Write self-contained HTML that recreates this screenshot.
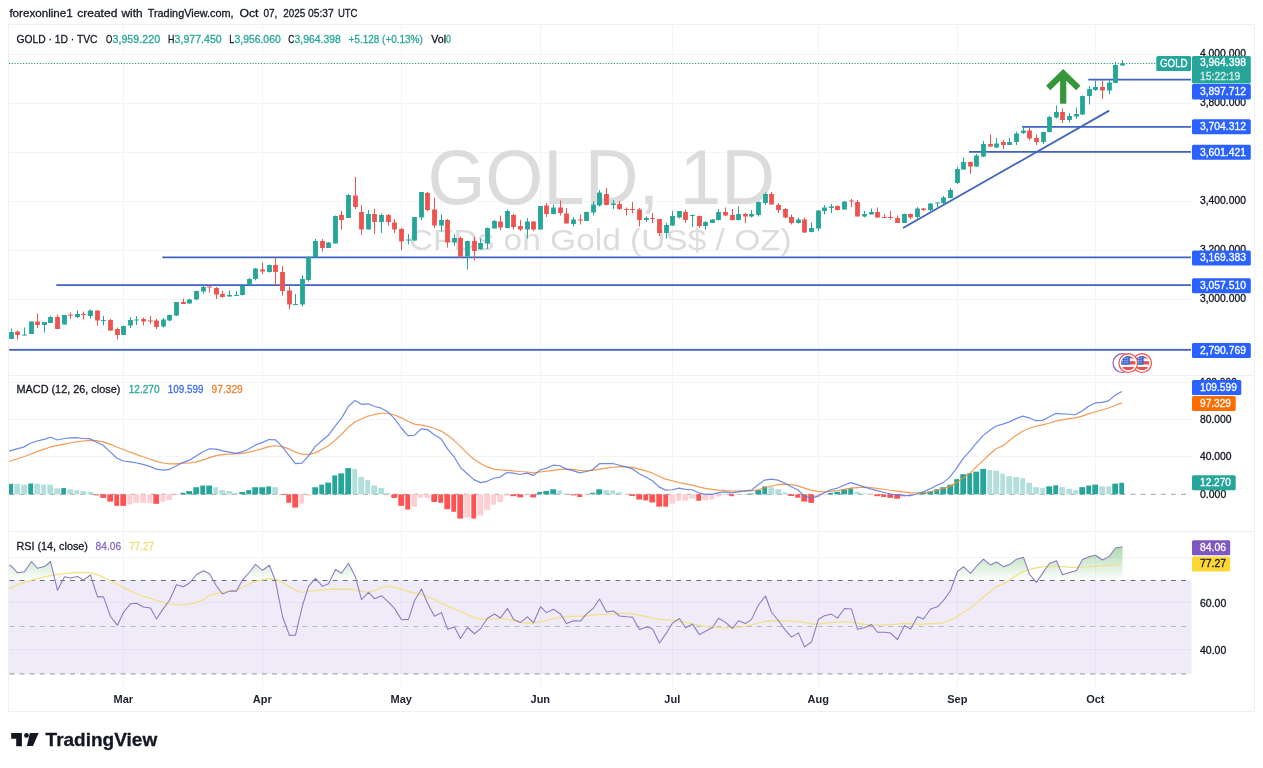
<!DOCTYPE html>
<html><head><meta charset="utf-8"><title>GOLD 1D chart</title><style>html,body{margin:0;padding:0;background:#fff;overflow:hidden}svg{display:block}</style></head><body>
<svg width="1263" height="768" viewBox="0 0 1263 768" font-family="'Liberation Sans', Arial, sans-serif"><rect x="0" y="0" width="1263" height="768" fill="#ffffff"/>
<text y="17" font-size="11.6" fill="#131722" stroke="#131722" stroke-width="0.3"><tspan x="9.4" textLength="63.3" lengthAdjust="spacingAndGlyphs">forexonline1</tspan> <tspan x="77.3" textLength="40" lengthAdjust="spacingAndGlyphs">created</tspan> <tspan x="121.6" textLength="21" lengthAdjust="spacingAndGlyphs">with</tspan> <tspan x="147.7" textLength="85.9" lengthAdjust="spacingAndGlyphs">TradingView.com,</tspan> <tspan x="239.4" textLength="19" lengthAdjust="spacingAndGlyphs">Oct</tspan> <tspan x="263.5" textLength="13.9" lengthAdjust="spacingAndGlyphs">07,</tspan> <tspan x="283.3" textLength="22" lengthAdjust="spacingAndGlyphs">2025</tspan> <tspan x="308" textLength="25.7" lengthAdjust="spacingAndGlyphs">05:37</tspan> <tspan x="337.9" textLength="19.5" lengthAdjust="spacingAndGlyphs">UTC</tspan></text>
<g stroke="#f3f4f7" stroke-width="1" shape-rendering="crispEdges">
<line x1="123.5" y1="24.5" x2="123.5" y2="686.5"/>
<line x1="262.5" y1="24.5" x2="262.5" y2="686.5"/>
<line x1="401.5" y1="24.5" x2="401.5" y2="686.5"/>
<line x1="540.5" y1="24.5" x2="540.5" y2="686.5"/>
<line x1="672.5" y1="24.5" x2="672.5" y2="686.5"/>
<line x1="818.5" y1="24.5" x2="818.5" y2="686.5"/>
<line x1="957.5" y1="24.5" x2="957.5" y2="686.5"/>
<line x1="1095.5" y1="24.5" x2="1095.5" y2="686.5"/>
<line x1="8.5" y1="54.5" x2="1191.5" y2="54.5"/>
<line x1="8.5" y1="103.5" x2="1191.5" y2="103.5"/>
<line x1="8.5" y1="152.5" x2="1191.5" y2="152.5"/>
<line x1="8.5" y1="201.5" x2="1191.5" y2="201.5"/>
<line x1="8.5" y1="250.5" x2="1191.5" y2="250.5"/>
<line x1="8.5" y1="299.5" x2="1191.5" y2="299.5"/>
<line x1="8.5" y1="348.5" x2="1191.5" y2="348.5"/>
<line x1="8.5" y1="382.5" x2="1191.5" y2="382.5"/>
<line x1="8.5" y1="419.5" x2="1191.5" y2="419.5"/>
<line x1="8.5" y1="456.5" x2="1191.5" y2="456.5"/>
<line x1="8.5" y1="557.5" x2="1191.5" y2="557.5"/>
<line x1="8.5" y1="602.5" x2="1191.5" y2="602.5"/>
<line x1="8.5" y1="649.5" x2="1191.5" y2="649.5"/>
</g>
<text x="601.2" y="204.3" font-size="77" fill="#dcdcdc" textLength="347.6" lengthAdjust="spacingAndGlyphs" text-anchor="middle" >GOLD, 1D</text>
<text x="600.3" y="250.1" font-size="30" fill="#dcdcdc" textLength="382.9" lengthAdjust="spacingAndGlyphs" text-anchor="middle" >CFDs on Gold (US$ / OZ)</text>
<rect x="9.0" y="580.5" width="1182.5" height="93.4" fill="#efebf9"/>
<g stroke="#e6e2f1" stroke-width="1" shape-rendering="crispEdges">
<line x1="8.5" y1="602.5" x2="1191.5" y2="602.5"/>
<line x1="8.5" y1="649.5" x2="1191.5" y2="649.5"/>
<line x1="123.5" y1="581" x2="123.5" y2="674"/>
<line x1="262.5" y1="581" x2="262.5" y2="674"/>
<line x1="401.5" y1="581" x2="401.5" y2="674"/>
<line x1="540.5" y1="581" x2="540.5" y2="674"/>
<line x1="672.5" y1="581" x2="672.5" y2="674"/>
<line x1="818.5" y1="581" x2="818.5" y2="674"/>
<line x1="957.5" y1="581" x2="957.5" y2="674"/>
<line x1="1095.5" y1="581" x2="1095.5" y2="674"/>
</g>
<line x1="9.5" y1="580.5" x2="1188" y2="580.5" stroke="#6b6e7a" stroke-width="1" stroke-dasharray="4.9 5.2"/>
<line x1="9.5" y1="626.5" x2="1188" y2="626.5" stroke="#b8bac2" stroke-width="1" stroke-dasharray="4.9 5.2"/>
<line x1="9.5" y1="673.9" x2="1188" y2="673.9" stroke="#a6a8b2" stroke-width="1.1" stroke-dasharray="4.9 5.2"/>
<line x1="9.5" y1="494.3" x2="1188" y2="494.3" stroke="#9da0a8" stroke-width="1" stroke-dasharray="4.9 5.2"/>
<line x1="9" y1="63.5" x2="1156" y2="63.5" stroke="#1f877b" stroke-width="1" stroke-dasharray="1.1 1.7"/>
<line x1="162.3" y1="257.3" x2="1191" y2="257.3" stroke="#3f63bf" stroke-width="1.8"/>
<line x1="56.3" y1="285.2" x2="1191" y2="285.2" stroke="#3f63bf" stroke-width="1.8"/>
<line x1="9.2" y1="349.9" x2="1191" y2="349.9" stroke="#3f63bf" stroke-width="1.8"/>
<line x1="969" y1="151.8" x2="1191" y2="151.8" stroke="#3f63bf" stroke-width="1.8"/>
<line x1="1022.1" y1="126.8" x2="1191" y2="126.8" stroke="#3f63bf" stroke-width="1.8"/>
<line x1="1088.3" y1="79.6" x2="1191" y2="79.6" stroke="#3f63bf" stroke-width="1.8"/>
<line x1="903" y1="228" x2="1109.2" y2="110.6" stroke="#3f63bf" stroke-width="1.8"/>
<g>
<path d="M11.5 328.5V339" stroke="#26a69a" stroke-width="1"/><rect x="9.1" y="332" width="4.8" height="7" fill="#26a69a"/>
<path d="M17.5 330.5V339.5" stroke="#ef5350" stroke-width="1"/><rect x="15.1" y="331.5" width="4.8" height="3.5" fill="#ef5350"/>
<path d="M24.5 327.5V335.5" stroke="#26a69a" stroke-width="1"/><rect x="22.1" y="334.5" width="4.8" height="1" fill="#26a69a"/>
<path d="M31.5 321.5V334" stroke="#26a69a" stroke-width="1"/><rect x="29.1" y="321.5" width="4.8" height="12.5" fill="#26a69a"/>
<path d="M37.5 313.5V328" stroke="#ef5350" stroke-width="1"/><rect x="35.1" y="321.5" width="4.8" height="3.5" fill="#ef5350"/>
<path d="M44.5 322V332.5" stroke="#26a69a" stroke-width="1"/><rect x="42.1" y="322" width="4.8" height="3" fill="#26a69a"/>
<path d="M50.5 316V323" stroke="#26a69a" stroke-width="1"/><rect x="48.1" y="317" width="4.8" height="6" fill="#26a69a"/>
<path d="M57.5 314.5V329" stroke="#ef5350" stroke-width="1"/><rect x="55.1" y="317" width="4.8" height="12" fill="#ef5350"/>
<path d="M64.5 315V324.5" stroke="#26a69a" stroke-width="1"/><rect x="62.1" y="315" width="4.8" height="9.5" fill="#26a69a"/>
<path d="M70.5 312.5V319" stroke="#ef5350" stroke-width="1"/><rect x="68.1" y="314.5" width="4.8" height="1" fill="#ef5350"/>
<path d="M77.5 310.5V318" stroke="#26a69a" stroke-width="1"/><rect x="75.1" y="314" width="4.8" height="3" fill="#26a69a"/>
<path d="M83.5 311.5V319.5" stroke="#ef5350" stroke-width="1"/><rect x="81.1" y="314" width="4.8" height="1" fill="#ef5350"/>
<path d="M90.5 309.5V318.5" stroke="#26a69a" stroke-width="1"/><rect x="88.1" y="310.5" width="4.8" height="5.5" fill="#26a69a"/>
<path d="M97.5 310.5V325.5" stroke="#ef5350" stroke-width="1"/><rect x="95.1" y="310.5" width="4.8" height="10" fill="#ef5350"/>
<path d="M103.5 316V325.5" stroke="#26a69a" stroke-width="1"/><rect x="101.1" y="320" width="4.8" height="1" fill="#26a69a"/>
<path d="M110.5 319V331" stroke="#ef5350" stroke-width="1"/><rect x="108.1" y="320" width="4.8" height="10.5" fill="#ef5350"/>
<path d="M117.5 327.5V339.5" stroke="#ef5350" stroke-width="1"/><rect x="115.1" y="329" width="4.8" height="6" fill="#ef5350"/>
<path d="M123.5 325.5V335" stroke="#26a69a" stroke-width="1"/><rect x="121.1" y="326" width="4.8" height="9" fill="#26a69a"/>
<path d="M130.5 317V328" stroke="#26a69a" stroke-width="1"/><rect x="128.1" y="320" width="4.8" height="5.5" fill="#26a69a"/>
<path d="M136.5 316V325" stroke="#26a69a" stroke-width="1"/><rect x="134.1" y="319.5" width="4.8" height="1" fill="#26a69a"/>
<path d="M143.5 317.5V325.5" stroke="#ef5350" stroke-width="1"/><rect x="141.1" y="319" width="4.8" height="2.5" fill="#ef5350"/>
<path d="M150.5 316V324" stroke="#ef5350" stroke-width="1"/><rect x="148.1" y="320.5" width="4.8" height="1" fill="#ef5350"/>
<path d="M156.5 319V329" stroke="#ef5350" stroke-width="1"/><rect x="154.1" y="320.5" width="4.8" height="6.5" fill="#ef5350"/>
<path d="M163.5 318V327.5" stroke="#26a69a" stroke-width="1"/><rect x="161.1" y="319.5" width="4.8" height="7" fill="#26a69a"/>
<path d="M169.5 314.5V321.5" stroke="#26a69a" stroke-width="1"/><rect x="167.1" y="315" width="4.8" height="5.5" fill="#26a69a"/>
<path d="M176.5 302V316" stroke="#26a69a" stroke-width="1"/><rect x="174.1" y="302" width="4.8" height="13.5" fill="#26a69a"/>
<path d="M183.5 298.5V304" stroke="#ef5350" stroke-width="1"/><rect x="181.1" y="302" width="4.8" height="2" fill="#ef5350"/>
<path d="M189.5 298.5V304" stroke="#26a69a" stroke-width="1"/><rect x="187.1" y="299.5" width="4.8" height="4" fill="#26a69a"/>
<path d="M196.5 290.5V300" stroke="#26a69a" stroke-width="1"/><rect x="194.1" y="291" width="4.8" height="8.5" fill="#26a69a"/>
<path d="M203.5 286V293.5" stroke="#26a69a" stroke-width="1"/><rect x="201.1" y="287" width="4.8" height="4.5" fill="#26a69a"/>
<path d="M209.5 286.5V292.5" stroke="#ef5350" stroke-width="1"/><rect x="207.1" y="286.5" width="4.8" height="1" fill="#ef5350"/>
<path d="M216.5 287V299" stroke="#ef5350" stroke-width="1"/><rect x="214.1" y="288" width="4.8" height="6.5" fill="#ef5350"/>
<path d="M222.5 291V297.5" stroke="#ef5350" stroke-width="1"/><rect x="220.1" y="294" width="4.8" height="3" fill="#ef5350"/>
<path d="M229.5 290.5V296.5" stroke="#26a69a" stroke-width="1"/><rect x="227.1" y="295" width="4.8" height="1.5" fill="#26a69a"/>
<path d="M236.5 291V295.5" stroke="#26a69a" stroke-width="1"/><rect x="234.1" y="295" width="4.8" height="1" fill="#26a69a"/>
<path d="M242.5 285.5V295.5" stroke="#26a69a" stroke-width="1"/><rect x="240.1" y="286" width="4.8" height="9" fill="#26a69a"/>
<path d="M249.5 278V285.5" stroke="#26a69a" stroke-width="1"/><rect x="247.1" y="279" width="4.8" height="6" fill="#26a69a"/>
<path d="M255.5 268V280.5" stroke="#26a69a" stroke-width="1"/><rect x="253.1" y="268.5" width="4.8" height="10.5" fill="#26a69a"/>
<path d="M262.5 262.5V274" stroke="#ef5350" stroke-width="1"/><rect x="260.1" y="269.5" width="4.8" height="2" fill="#ef5350"/>
<path d="M269.5 264.5V272.5" stroke="#26a69a" stroke-width="1"/><rect x="267.1" y="265" width="4.8" height="7" fill="#26a69a"/>
<path d="M275.5 258V285" stroke="#ef5350" stroke-width="1"/><rect x="273.1" y="265" width="4.8" height="7" fill="#ef5350"/>
<path d="M282.5 266V295.5" stroke="#ef5350" stroke-width="1"/><rect x="280.1" y="272" width="4.8" height="19" fill="#ef5350"/>
<path d="M289.5 286.5V309.5" stroke="#ef5350" stroke-width="1"/><rect x="287.1" y="290.5" width="4.8" height="14" fill="#ef5350"/>
<path d="M295.5 294V305" stroke="#26a69a" stroke-width="1"/><rect x="293.1" y="304" width="4.8" height="1" fill="#26a69a"/>
<path d="M302.5 275V306.5" stroke="#26a69a" stroke-width="1"/><rect x="300.1" y="279" width="4.8" height="25.5" fill="#26a69a"/>
<path d="M308.5 256V281.5" stroke="#26a69a" stroke-width="1"/><rect x="306.1" y="257" width="4.8" height="23" fill="#26a69a"/>
<path d="M315.5 239V257.5" stroke="#26a69a" stroke-width="1"/><rect x="313.1" y="241" width="4.8" height="16.5" fill="#26a69a"/>
<path d="M322.5 239V251.5" stroke="#ef5350" stroke-width="1"/><rect x="320.1" y="241" width="4.8" height="7" fill="#ef5350"/>
<path d="M328.5 242V248" stroke="#26a69a" stroke-width="1"/><rect x="326.1" y="242.5" width="4.8" height="5.5" fill="#26a69a"/>
<path d="M335.5 215.5V243.5" stroke="#26a69a" stroke-width="1"/><rect x="333.1" y="216" width="4.8" height="27.5" fill="#26a69a"/>
<path d="M341.5 211V229.5" stroke="#ef5350" stroke-width="1"/><rect x="339.1" y="215" width="4.8" height="5" fill="#ef5350"/>
<path d="M348.5 194V218" stroke="#26a69a" stroke-width="1"/><rect x="346.1" y="195" width="4.8" height="23" fill="#26a69a"/>
<path d="M355.5 177V209" stroke="#ef5350" stroke-width="1"/><rect x="353.1" y="195.5" width="4.8" height="11.5" fill="#ef5350"/>
<path d="M361.5 205V235" stroke="#ef5350" stroke-width="1"/><rect x="359.1" y="212" width="4.8" height="17.5" fill="#ef5350"/>
<path d="M368.5 210V229.5" stroke="#26a69a" stroke-width="1"/><rect x="366.1" y="214" width="4.8" height="15.5" fill="#26a69a"/>
<path d="M374.5 208.5V234" stroke="#ef5350" stroke-width="1"/><rect x="372.1" y="214" width="4.8" height="8" fill="#ef5350"/>
<path d="M381.5 213.5V233" stroke="#26a69a" stroke-width="1"/><rect x="379.1" y="215" width="4.8" height="7" fill="#26a69a"/>
<path d="M388.5 214V225.5" stroke="#ef5350" stroke-width="1"/><rect x="386.1" y="215" width="4.8" height="7" fill="#ef5350"/>
<path d="M394.5 219V233" stroke="#ef5350" stroke-width="1"/><rect x="392.1" y="222.5" width="4.8" height="7" fill="#ef5350"/>
<path d="M401.5 228V250" stroke="#ef5350" stroke-width="1"/><rect x="399.1" y="229" width="4.8" height="12.5" fill="#ef5350"/>
<path d="M408.5 234V244.5" stroke="#26a69a" stroke-width="1"/><rect x="406.1" y="239.5" width="4.8" height="1" fill="#26a69a"/>
<path d="M414.5 217V241" stroke="#26a69a" stroke-width="1"/><rect x="412.1" y="217" width="4.8" height="23.5" fill="#26a69a"/>
<path d="M421.5 192V220" stroke="#26a69a" stroke-width="1"/><rect x="419.1" y="192" width="4.8" height="25.5" fill="#26a69a"/>
<path d="M427.5 192V211" stroke="#ef5350" stroke-width="1"/><rect x="425.1" y="193" width="4.8" height="17" fill="#ef5350"/>
<path d="M434.5 197.5V228" stroke="#ef5350" stroke-width="1"/><rect x="432.1" y="209.5" width="4.8" height="16" fill="#ef5350"/>
<path d="M441.5 214.5V231.5" stroke="#26a69a" stroke-width="1"/><rect x="439.1" y="220" width="4.8" height="5.5" fill="#26a69a"/>
<path d="M447.5 219V247.5" stroke="#ef5350" stroke-width="1"/><rect x="445.1" y="220" width="4.8" height="22.5" fill="#ef5350"/>
<path d="M454.5 234.5V246" stroke="#26a69a" stroke-width="1"/><rect x="452.1" y="238" width="4.8" height="4.5" fill="#26a69a"/>
<path d="M460.5 236.5V257.5" stroke="#ef5350" stroke-width="1"/><rect x="458.1" y="238" width="4.8" height="18.5" fill="#ef5350"/>
<path d="M467.5 240.5V269.5" stroke="#26a69a" stroke-width="1"/><rect x="465.1" y="241" width="4.8" height="15.5" fill="#26a69a"/>
<path d="M474.5 237V260.5" stroke="#ef5350" stroke-width="1"/><rect x="472.1" y="241" width="4.8" height="10" fill="#ef5350"/>
<path d="M480.5 238.5V249.5" stroke="#26a69a" stroke-width="1"/><rect x="478.1" y="243" width="4.8" height="6.5" fill="#26a69a"/>
<path d="M487.5 227.5V249" stroke="#26a69a" stroke-width="1"/><rect x="485.1" y="228" width="4.8" height="15.5" fill="#26a69a"/>
<path d="M494.5 220V228.5" stroke="#26a69a" stroke-width="1"/><rect x="492.1" y="221" width="4.8" height="7.5" fill="#26a69a"/>
<path d="M500.5 215.5V230" stroke="#ef5350" stroke-width="1"/><rect x="498.1" y="221.5" width="4.8" height="6" fill="#ef5350"/>
<path d="M507.5 209.5V228" stroke="#26a69a" stroke-width="1"/><rect x="505.1" y="211" width="4.8" height="17" fill="#26a69a"/>
<path d="M513.5 213.5V229.5" stroke="#ef5350" stroke-width="1"/><rect x="511.1" y="215" width="4.8" height="12" fill="#ef5350"/>
<path d="M520.5 220V231" stroke="#ef5350" stroke-width="1"/><rect x="518.1" y="226" width="4.8" height="3.5" fill="#ef5350"/>
<path d="M527.5 218V238.5" stroke="#26a69a" stroke-width="1"/><rect x="525.1" y="221.5" width="4.8" height="8" fill="#26a69a"/>
<path d="M533.5 221V231" stroke="#ef5350" stroke-width="1"/><rect x="531.1" y="221.5" width="4.8" height="8" fill="#ef5350"/>
<path d="M540.5 206V229.5" stroke="#26a69a" stroke-width="1"/><rect x="538.1" y="206" width="4.8" height="23.5" fill="#26a69a"/>
<path d="M546.5 203V217" stroke="#ef5350" stroke-width="1"/><rect x="544.1" y="205.5" width="4.8" height="8.5" fill="#ef5350"/>
<path d="M553.5 204.5V214.5" stroke="#26a69a" stroke-width="1"/><rect x="551.1" y="207.5" width="4.8" height="6.5" fill="#26a69a"/>
<path d="M560.5 200.5V215.5" stroke="#ef5350" stroke-width="1"/><rect x="558.1" y="207.5" width="4.8" height="5.5" fill="#ef5350"/>
<path d="M566.5 208V223.5" stroke="#ef5350" stroke-width="1"/><rect x="564.1" y="213.5" width="4.8" height="10" fill="#ef5350"/>
<path d="M573.5 217V226.5" stroke="#26a69a" stroke-width="1"/><rect x="571.1" y="219.5" width="4.8" height="4.5" fill="#26a69a"/>
<path d="M580.5 214.5V224.5" stroke="#ef5350" stroke-width="1"/><rect x="578.1" y="219.5" width="4.8" height="1" fill="#ef5350"/>
<path d="M586.5 211.5V221" stroke="#26a69a" stroke-width="1"/><rect x="584.1" y="212" width="4.8" height="9" fill="#26a69a"/>
<path d="M593.5 201.5V215.5" stroke="#26a69a" stroke-width="1"/><rect x="591.1" y="204.5" width="4.8" height="8" fill="#26a69a"/>
<path d="M599.5 190V206.5" stroke="#26a69a" stroke-width="1"/><rect x="597.1" y="192.5" width="4.8" height="13" fill="#26a69a"/>
<path d="M606.5 188V205.5" stroke="#ef5350" stroke-width="1"/><rect x="604.1" y="194" width="4.8" height="11" fill="#ef5350"/>
<path d="M613.5 200V209" stroke="#26a69a" stroke-width="1"/><rect x="611.1" y="203.5" width="4.8" height="1.5" fill="#26a69a"/>
<path d="M619.5 201V210" stroke="#ef5350" stroke-width="1"/><rect x="617.1" y="204" width="4.8" height="5" fill="#ef5350"/>
<path d="M626.5 207.5V215.5" stroke="#ef5350" stroke-width="1"/><rect x="624.1" y="209" width="4.8" height="1" fill="#ef5350"/>
<path d="M632.5 202V213.5" stroke="#ef5350" stroke-width="1"/><rect x="630.1" y="209" width="4.8" height="1" fill="#ef5350"/>
<path d="M639.5 208V226.5" stroke="#ef5350" stroke-width="1"/><rect x="637.1" y="209.5" width="4.8" height="10.5" fill="#ef5350"/>
<path d="M646.5 216.5V222" stroke="#26a69a" stroke-width="1"/><rect x="644.1" y="218" width="4.8" height="2" fill="#26a69a"/>
<path d="M652.5 213V223" stroke="#ef5350" stroke-width="1"/><rect x="650.1" y="218" width="4.8" height="1" fill="#ef5350"/>
<path d="M659.5 219V236" stroke="#ef5350" stroke-width="1"/><rect x="657.1" y="219" width="4.8" height="14" fill="#ef5350"/>
<path d="M666.5 223V238.5" stroke="#26a69a" stroke-width="1"/><rect x="664.1" y="225" width="4.8" height="8" fill="#26a69a"/>
<path d="M672.5 211V226" stroke="#26a69a" stroke-width="1"/><rect x="670.1" y="216" width="4.8" height="9.5" fill="#26a69a"/>
<path d="M679.5 211V218.5" stroke="#26a69a" stroke-width="1"/><rect x="677.1" y="211" width="4.8" height="6.5" fill="#26a69a"/>
<path d="M685.5 209.5V223" stroke="#ef5350" stroke-width="1"/><rect x="683.1" y="212" width="4.8" height="8" fill="#ef5350"/>
<path d="M692.5 214.5V227" stroke="#26a69a" stroke-width="1"/><rect x="690.1" y="215" width="4.8" height="1" fill="#26a69a"/>
<path d="M699.5 215.5V228" stroke="#ef5350" stroke-width="1"/><rect x="697.1" y="216" width="4.8" height="10" fill="#ef5350"/>
<path d="M705.5 221V229.5" stroke="#26a69a" stroke-width="1"/><rect x="703.1" y="222" width="4.8" height="4" fill="#26a69a"/>
<path d="M712.5 219V223" stroke="#26a69a" stroke-width="1"/><rect x="710.1" y="219.5" width="4.8" height="3.5" fill="#26a69a"/>
<path d="M718.5 209V220.5" stroke="#26a69a" stroke-width="1"/><rect x="716.1" y="212" width="4.8" height="8" fill="#26a69a"/>
<path d="M725.5 207.5V216" stroke="#ef5350" stroke-width="1"/><rect x="723.1" y="212" width="4.8" height="3.5" fill="#ef5350"/>
<path d="M732.5 209V220.5" stroke="#ef5350" stroke-width="1"/><rect x="730.1" y="215" width="4.8" height="5" fill="#ef5350"/>
<path d="M738.5 206.5V220.5" stroke="#26a69a" stroke-width="1"/><rect x="736.1" y="214" width="4.8" height="6" fill="#26a69a"/>
<path d="M745.5 213V223" stroke="#ef5350" stroke-width="1"/><rect x="743.1" y="214" width="4.8" height="2.5" fill="#ef5350"/>
<path d="M751.5 210V217.5" stroke="#26a69a" stroke-width="1"/><rect x="749.1" y="214" width="4.8" height="2.5" fill="#26a69a"/>
<path d="M758.5 201.5V216.5" stroke="#26a69a" stroke-width="1"/><rect x="756.1" y="202" width="4.8" height="13" fill="#26a69a"/>
<path d="M765.5 192.5V205" stroke="#26a69a" stroke-width="1"/><rect x="763.1" y="194" width="4.8" height="9" fill="#26a69a"/>
<path d="M771.5 192V204.5" stroke="#ef5350" stroke-width="1"/><rect x="769.1" y="194" width="4.8" height="10.5" fill="#ef5350"/>
<path d="M778.5 203V213" stroke="#ef5350" stroke-width="1"/><rect x="776.1" y="205" width="4.8" height="5" fill="#ef5350"/>
<path d="M785.5 208V218.5" stroke="#ef5350" stroke-width="1"/><rect x="783.1" y="209" width="4.8" height="8.5" fill="#ef5350"/>
<path d="M791.5 214.5V224.5" stroke="#ef5350" stroke-width="1"/><rect x="789.1" y="217" width="4.8" height="6" fill="#ef5350"/>
<path d="M798.5 217.5V223.5" stroke="#26a69a" stroke-width="1"/><rect x="796.1" y="219.5" width="4.8" height="3.5" fill="#26a69a"/>
<path d="M804.5 217.5V233" stroke="#ef5350" stroke-width="1"/><rect x="802.1" y="219.5" width="4.8" height="13" fill="#ef5350"/>
<path d="M811.5 222.5V232.5" stroke="#26a69a" stroke-width="1"/><rect x="809.1" y="228" width="4.8" height="4" fill="#26a69a"/>
<path d="M818.5 210V231" stroke="#26a69a" stroke-width="1"/><rect x="816.1" y="210.5" width="4.8" height="18" fill="#26a69a"/>
<path d="M824.5 205V214.5" stroke="#26a69a" stroke-width="1"/><rect x="822.1" y="207.5" width="4.8" height="3.5" fill="#26a69a"/>
<path d="M831.5 204V213" stroke="#26a69a" stroke-width="1"/><rect x="829.1" y="206.5" width="4.8" height="1.5" fill="#26a69a"/>
<path d="M837.5 205.5V210.5" stroke="#ef5350" stroke-width="1"/><rect x="835.1" y="206" width="4.8" height="4" fill="#ef5350"/>
<path d="M844.5 201V210" stroke="#26a69a" stroke-width="1"/><rect x="842.1" y="201.5" width="4.8" height="8" fill="#26a69a"/>
<path d="M851.5 199V207" stroke="#ef5350" stroke-width="1"/><rect x="849.1" y="200.5" width="4.8" height="1" fill="#ef5350"/>
<path d="M857.5 200V216.5" stroke="#ef5350" stroke-width="1"/><rect x="855.1" y="202" width="4.8" height="14.5" fill="#ef5350"/>
<path d="M864.5 211V217.5" stroke="#26a69a" stroke-width="1"/><rect x="862.1" y="214" width="4.8" height="2.5" fill="#26a69a"/>
<path d="M871.5 208.5V214.5" stroke="#26a69a" stroke-width="1"/><rect x="869.1" y="212" width="4.8" height="2.5" fill="#26a69a"/>
<path d="M877.5 207.5V218" stroke="#ef5350" stroke-width="1"/><rect x="875.1" y="212" width="4.8" height="5.5" fill="#ef5350"/>
<path d="M884.5 214V217.5" stroke="#ef5350" stroke-width="1"/><rect x="882.1" y="217" width="4.8" height="1" fill="#ef5350"/>
<path d="M890.5 211V219.5" stroke="#ef5350" stroke-width="1"/><rect x="888.1" y="217" width="4.8" height="1" fill="#ef5350"/>
<path d="M897.5 215.5V223" stroke="#ef5350" stroke-width="1"/><rect x="895.1" y="218" width="4.8" height="5" fill="#ef5350"/>
<path d="M904.5 213.5V223" stroke="#26a69a" stroke-width="1"/><rect x="902.1" y="214" width="4.8" height="9" fill="#26a69a"/>
<path d="M910.5 213.5V219" stroke="#ef5350" stroke-width="1"/><rect x="908.1" y="214" width="4.8" height="3.5" fill="#ef5350"/>
<path d="M917.5 207V218.5" stroke="#26a69a" stroke-width="1"/><rect x="915.1" y="208.5" width="4.8" height="8.5" fill="#26a69a"/>
<path d="M923.5 208V211" stroke="#ef5350" stroke-width="1"/><rect x="921.1" y="208.5" width="4.8" height="1.5" fill="#ef5350"/>
<path d="M930.5 203V211" stroke="#26a69a" stroke-width="1"/><rect x="928.1" y="203.5" width="4.8" height="6.5" fill="#26a69a"/>
<path d="M937.5 202.5V207.5" stroke="#26a69a" stroke-width="1"/><rect x="935.1" y="202.5" width="4.8" height="1" fill="#26a69a"/>
<path d="M943.5 196V204" stroke="#26a69a" stroke-width="1"/><rect x="941.1" y="197.5" width="4.8" height="5.5" fill="#26a69a"/>
<path d="M950.5 188V198.5" stroke="#26a69a" stroke-width="1"/><rect x="948.1" y="190" width="4.8" height="8" fill="#26a69a"/>
<path d="M957.5 167V184" stroke="#26a69a" stroke-width="1"/><rect x="955.1" y="169" width="4.8" height="14" fill="#26a69a"/>
<path d="M963.5 157.5V170" stroke="#26a69a" stroke-width="1"/><rect x="961.1" y="162" width="4.8" height="7.5" fill="#26a69a"/>
<path d="M970.5 161.5V174" stroke="#ef5350" stroke-width="1"/><rect x="968.1" y="162" width="4.8" height="4.5" fill="#ef5350"/>
<path d="M976.5 154V167" stroke="#26a69a" stroke-width="1"/><rect x="974.1" y="155.5" width="4.8" height="11" fill="#26a69a"/>
<path d="M983.5 141V157" stroke="#26a69a" stroke-width="1"/><rect x="981.1" y="144" width="4.8" height="12.5" fill="#26a69a"/>
<path d="M990.5 134.5V147" stroke="#ef5350" stroke-width="1"/><rect x="988.1" y="144" width="4.8" height="2.5" fill="#ef5350"/>
<path d="M996.5 138V148" stroke="#26a69a" stroke-width="1"/><rect x="994.1" y="143.5" width="4.8" height="4" fill="#26a69a"/>
<path d="M1003.5 140V149" stroke="#ef5350" stroke-width="1"/><rect x="1001.1" y="142" width="4.8" height="3" fill="#ef5350"/>
<path d="M1009.5 138V145" stroke="#26a69a" stroke-width="1"/><rect x="1007.1" y="142" width="4.8" height="3" fill="#26a69a"/>
<path d="M1016.5 131.5V145" stroke="#26a69a" stroke-width="1"/><rect x="1014.1" y="133.5" width="4.8" height="8.5" fill="#26a69a"/>
<path d="M1023.5 127.5V134" stroke="#26a69a" stroke-width="1"/><rect x="1021.1" y="130.5" width="4.8" height="2.5" fill="#26a69a"/>
<path d="M1029.5 128V140.5" stroke="#ef5350" stroke-width="1"/><rect x="1027.1" y="130.5" width="4.8" height="8" fill="#ef5350"/>
<path d="M1036.5 134.5V145" stroke="#ef5350" stroke-width="1"/><rect x="1034.1" y="138" width="4.8" height="4" fill="#ef5350"/>
<path d="M1043.5 131.5V144" stroke="#26a69a" stroke-width="1"/><rect x="1041.1" y="132" width="4.8" height="10" fill="#26a69a"/>
<path d="M1049.5 116V132.5" stroke="#26a69a" stroke-width="1"/><rect x="1047.1" y="117" width="4.8" height="15" fill="#26a69a"/>
<path d="M1056.5 105.5V118.5" stroke="#26a69a" stroke-width="1"/><rect x="1054.1" y="112" width="4.8" height="5.5" fill="#26a69a"/>
<path d="M1062.5 108.5V123" stroke="#ef5350" stroke-width="1"/><rect x="1060.1" y="112" width="4.8" height="8" fill="#ef5350"/>
<path d="M1069.5 113V122.5" stroke="#26a69a" stroke-width="1"/><rect x="1067.1" y="116" width="4.8" height="4" fill="#26a69a"/>
<path d="M1076.5 107.5V119" stroke="#26a69a" stroke-width="1"/><rect x="1074.1" y="114" width="4.8" height="2.5" fill="#26a69a"/>
<path d="M1082.5 95.5V115" stroke="#26a69a" stroke-width="1"/><rect x="1080.1" y="96" width="4.8" height="18.5" fill="#26a69a"/>
<path d="M1089.5 86V104.5" stroke="#26a69a" stroke-width="1"/><rect x="1087.1" y="89" width="4.8" height="7" fill="#26a69a"/>
<path d="M1095.5 80.5V91" stroke="#26a69a" stroke-width="1"/><rect x="1093.1" y="87" width="4.8" height="3" fill="#26a69a"/>
<path d="M1102.5 80.5V99" stroke="#ef5350" stroke-width="1"/><rect x="1100.1" y="87" width="4.8" height="3.5" fill="#ef5350"/>
<path d="M1109.5 80V94.5" stroke="#26a69a" stroke-width="1"/><rect x="1107.1" y="82.5" width="4.8" height="8" fill="#26a69a"/>
<path d="M1115.5 62V83" stroke="#26a69a" stroke-width="1"/><rect x="1113.1" y="65" width="4.8" height="18" fill="#26a69a"/>
<path d="M1122.5 60V65.5" stroke="#26a69a" stroke-width="1"/><rect x="1120.1" y="63.5" width="4.8" height="2" fill="#26a69a"/>
</g>
<g fill="none" stroke="#35963a" stroke-width="6.2" stroke-linecap="butt" stroke-linejoin="miter"><path d="M1063.2 103.7V76"/><path d="M1048.2 88L1063.2 73.4L1078.3 88"/></g>
<rect x="8.3" y="483.83" width="4.8" height="10.49" fill="#26a69a"/>
<rect x="14.3" y="483.83" width="5.8" height="10.49" fill="#b2dfdb"/>
<rect x="21.3" y="484.68" width="5.8" height="9.64" fill="#b2dfdb"/>
<rect x="28.3" y="483.49" width="4.8" height="10.83" fill="#26a69a"/>
<rect x="34.3" y="483.83" width="5.8" height="10.49" fill="#b2dfdb"/>
<rect x="41.3" y="484.68" width="4.8" height="9.64" fill="#b2dfdb"/>
<rect x="47.3" y="484.68" width="5.8" height="9.64" fill="#b2dfdb"/>
<rect x="54.3" y="488.4" width="5.8" height="5.92" fill="#b2dfdb"/>
<rect x="61.3" y="488.06" width="4.8" height="6.26" fill="#26a69a"/>
<rect x="67.3" y="489.42" width="5.8" height="4.91" fill="#b2dfdb"/>
<rect x="74.3" y="490.26" width="4.8" height="4.06" fill="#b2dfdb"/>
<rect x="80.3" y="491.11" width="5.8" height="3.21" fill="#b2dfdb"/>
<rect x="87.3" y="491.95" width="5.8" height="2.37" fill="#b2dfdb"/>
<rect x="94.3" y="494.32" width="4.8" height="1.02" fill="#ff5252"/>
<rect x="100.3" y="494.32" width="5.8" height="3.55" fill="#ff5252"/>
<rect x="107.3" y="494.32" width="5.8" height="7.28" fill="#ff5252"/>
<rect x="114.3" y="494.32" width="4.8" height="11.51" fill="#ff5252"/>
<rect x="120.3" y="494.32" width="5.8" height="11.51" fill="#ff5252"/>
<rect x="127.3" y="494.32" width="4.8" height="10.15" fill="#ffcdd2"/>
<rect x="133.3" y="494.32" width="5.8" height="8.46" fill="#ffcdd2"/>
<rect x="140.3" y="494.32" width="5.8" height="8.46" fill="#ffcdd2"/>
<rect x="147.3" y="494.32" width="4.8" height="8.46" fill="#ffcdd2"/>
<rect x="153.3" y="494.32" width="5.8" height="9.48" fill="#ff5252"/>
<rect x="160.3" y="494.32" width="4.8" height="7.28" fill="#ffcdd2"/>
<rect x="166.3" y="494.32" width="5.8" height="5.58" fill="#ffcdd2"/>
<rect x="173.3" y="494.32" width="5.8" height="0.85" fill="#ffcdd2"/>
<rect x="180.3" y="492.8" width="4.8" height="1.52" fill="#26a69a"/>
<rect x="186.3" y="491.11" width="5.8" height="3.21" fill="#26a69a"/>
<rect x="193.3" y="487.22" width="5.8" height="7.11" fill="#26a69a"/>
<rect x="200.3" y="485.52" width="4.8" height="8.8" fill="#26a69a"/>
<rect x="206.3" y="485.52" width="5.8" height="8.8" fill="#26a69a"/>
<rect x="213.3" y="487.22" width="4.8" height="7.11" fill="#b2dfdb"/>
<rect x="219.3" y="490.09" width="5.8" height="4.23" fill="#b2dfdb"/>
<rect x="226.3" y="491.11" width="5.8" height="3.21" fill="#b2dfdb"/>
<rect x="233.3" y="493.14" width="4.8" height="1.18" fill="#b2dfdb"/>
<rect x="239.3" y="491.95" width="5.8" height="2.37" fill="#26a69a"/>
<rect x="246.3" y="490.09" width="4.8" height="4.23" fill="#26a69a"/>
<rect x="252.3" y="487.22" width="5.8" height="7.11" fill="#26a69a"/>
<rect x="259.3" y="487.22" width="5.8" height="7.11" fill="#26a69a"/>
<rect x="266.3" y="486.37" width="4.8" height="7.95" fill="#26a69a"/>
<rect x="272.3" y="487.22" width="5.8" height="7.11" fill="#b2dfdb"/>
<rect x="279.3" y="494.32" width="5.8" height="0.6" fill="#ff5252"/>
<rect x="286.3" y="494.32" width="4.8" height="8.46" fill="#ff5252"/>
<rect x="292.3" y="494.32" width="5.8" height="13.2" fill="#ff5252"/>
<rect x="299.3" y="494.32" width="4.8" height="9.31" fill="#ffcdd2"/>
<rect x="305.3" y="494.32" width="5.8" height="1.35" fill="#ffcdd2"/>
<rect x="312.3" y="487.22" width="5.8" height="7.11" fill="#26a69a"/>
<rect x="319.3" y="484.68" width="4.8" height="9.64" fill="#26a69a"/>
<rect x="325.3" y="482.65" width="5.8" height="11.68" fill="#26a69a"/>
<rect x="332.3" y="475.37" width="4.8" height="18.95" fill="#26a69a"/>
<rect x="338.3" y="473.34" width="5.8" height="20.98" fill="#26a69a"/>
<rect x="345.3" y="468.1" width="5.8" height="26.23" fill="#26a69a"/>
<rect x="352.3" y="468.94" width="4.8" height="25.38" fill="#b2dfdb"/>
<rect x="358.3" y="477.06" width="5.8" height="17.26" fill="#b2dfdb"/>
<rect x="365.3" y="479.94" width="4.8" height="14.38" fill="#b2dfdb"/>
<rect x="371.3" y="485.52" width="5.8" height="8.8" fill="#b2dfdb"/>
<rect x="378.3" y="488.06" width="5.8" height="6.26" fill="#b2dfdb"/>
<rect x="385.3" y="493.14" width="4.8" height="1.18" fill="#b2dfdb"/>
<rect x="391.3" y="494.32" width="5.8" height="3.55" fill="#ff5252"/>
<rect x="398.3" y="494.32" width="5.8" height="11.51" fill="#ff5252"/>
<rect x="405.3" y="494.32" width="4.8" height="15.23" fill="#ff5252"/>
<rect x="411.3" y="494.32" width="5.8" height="12.35" fill="#ffcdd2"/>
<rect x="418.3" y="494.32" width="4.8" height="3.38" fill="#ffcdd2"/>
<rect x="424.3" y="494.32" width="5.8" height="3.38" fill="#ffcdd2"/>
<rect x="431.3" y="494.32" width="5.8" height="7.61" fill="#ff5252"/>
<rect x="438.3" y="494.32" width="4.8" height="8.46" fill="#ff5252"/>
<rect x="444.3" y="494.32" width="5.8" height="14.89" fill="#ff5252"/>
<rect x="451.3" y="494.32" width="4.8" height="17.43" fill="#ff5252"/>
<rect x="457.3" y="494.32" width="5.8" height="24.2" fill="#ff5252"/>
<rect x="464.3" y="494.32" width="5.8" height="23.01" fill="#ffcdd2"/>
<rect x="471.3" y="494.32" width="4.8" height="24.2" fill="#ff5252"/>
<rect x="477.3" y="494.32" width="5.8" height="21.15" fill="#ffcdd2"/>
<rect x="484.3" y="494.32" width="5.8" height="15.74" fill="#ffcdd2"/>
<rect x="491.3" y="494.32" width="4.8" height="10.32" fill="#ffcdd2"/>
<rect x="497.3" y="494.32" width="5.8" height="7.61" fill="#ffcdd2"/>
<rect x="504.3" y="494.32" width="4.8" height="1.35" fill="#ffcdd2"/>
<rect x="510.3" y="494.32" width="5.8" height="1.86" fill="#ff5252"/>
<rect x="517.3" y="494.32" width="5.8" height="3.05" fill="#ff5252"/>
<rect x="524.3" y="494.32" width="4.8" height="0.85" fill="#ffcdd2"/>
<rect x="530.3" y="494.32" width="5.8" height="3.05" fill="#ff5252"/>
<rect x="537.3" y="491.95" width="4.8" height="2.37" fill="#26a69a"/>
<rect x="543.3" y="490.94" width="5.8" height="3.38" fill="#26a69a"/>
<rect x="550.3" y="489.25" width="5.8" height="5.08" fill="#26a69a"/>
<rect x="557.3" y="490.26" width="4.8" height="4.06" fill="#b2dfdb"/>
<rect x="563.3" y="493.65" width="5.8" height="0.68" fill="#b2dfdb"/>
<rect x="570.3" y="494.32" width="5.8" height="1.02" fill="#ff5252"/>
<rect x="577.3" y="494.32" width="4.8" height="2.71" fill="#ff5252"/>
<rect x="583.3" y="494.32" width="5.8" height="0.6" fill="#ffcdd2"/>
<rect x="590.3" y="492.8" width="4.8" height="1.52" fill="#26a69a"/>
<rect x="596.3" y="489.25" width="5.8" height="5.08" fill="#26a69a"/>
<rect x="603.3" y="490.26" width="5.8" height="4.06" fill="#b2dfdb"/>
<rect x="610.3" y="490.26" width="4.8" height="4.06" fill="#b2dfdb"/>
<rect x="616.3" y="492.29" width="5.8" height="2.03" fill="#b2dfdb"/>
<rect x="623.3" y="494.32" width="4.8" height="0.6" fill="#ffcdd2"/>
<rect x="629.3" y="494.32" width="5.8" height="1.69" fill="#ff5252"/>
<rect x="636.3" y="494.32" width="5.8" height="5.25" fill="#ff5252"/>
<rect x="643.3" y="494.32" width="4.8" height="6.09" fill="#ff5252"/>
<rect x="649.3" y="494.32" width="5.8" height="8.12" fill="#ff5252"/>
<rect x="656.3" y="494.32" width="5.8" height="12.35" fill="#ff5252"/>
<rect x="663.3" y="494.32" width="4.8" height="12.35" fill="#ff5252"/>
<rect x="669.3" y="494.32" width="5.8" height="9.31" fill="#ffcdd2"/>
<rect x="676.3" y="494.32" width="4.8" height="6.43" fill="#ffcdd2"/>
<rect x="682.3" y="494.32" width="5.8" height="6.43" fill="#ffcdd2"/>
<rect x="689.3" y="494.32" width="5.8" height="4.23" fill="#ffcdd2"/>
<rect x="696.3" y="494.32" width="4.8" height="6.43" fill="#ff5252"/>
<rect x="702.3" y="494.32" width="5.8" height="5.92" fill="#ffcdd2"/>
<rect x="709.3" y="494.32" width="4.8" height="5.08" fill="#ffcdd2"/>
<rect x="715.3" y="494.32" width="5.8" height="2.2" fill="#ffcdd2"/>
<rect x="722.3" y="494.32" width="5.8" height="0.85" fill="#ffcdd2"/>
<rect x="729.3" y="494.32" width="4.8" height="1.86" fill="#ff5252"/>
<rect x="735.3" y="494.32" width="5.8" height="0.6" fill="#ffcdd2"/>
<rect x="742.3" y="493.98" width="4.8" height="0.6" fill="#b2dfdb"/>
<rect x="748.3" y="493.65" width="5.8" height="0.68" fill="#26a69a"/>
<rect x="755.3" y="490.09" width="5.8" height="4.23" fill="#26a69a"/>
<rect x="762.3" y="486.37" width="4.8" height="7.95" fill="#26a69a"/>
<rect x="768.3" y="487.22" width="5.8" height="7.11" fill="#b2dfdb"/>
<rect x="775.3" y="489.25" width="5.8" height="5.08" fill="#b2dfdb"/>
<rect x="782.3" y="492.29" width="4.8" height="2.03" fill="#b2dfdb"/>
<rect x="788.3" y="494.32" width="5.8" height="1.69" fill="#ff5252"/>
<rect x="795.3" y="494.32" width="4.8" height="3.38" fill="#ff5252"/>
<rect x="801.3" y="494.32" width="5.8" height="7.28" fill="#ff5252"/>
<rect x="808.3" y="494.32" width="5.8" height="8.46" fill="#ff5252"/>
<rect x="815.3" y="494.32" width="4.8" height="3.38" fill="#ffcdd2"/>
<rect x="821.3" y="494.32" width="5.8" height="0.85" fill="#ffcdd2"/>
<rect x="828.3" y="492.8" width="4.8" height="1.52" fill="#26a69a"/>
<rect x="834.3" y="491.79" width="5.8" height="2.54" fill="#26a69a"/>
<rect x="841.3" y="489.42" width="5.8" height="4.91" fill="#26a69a"/>
<rect x="848.3" y="488.4" width="4.8" height="5.92" fill="#26a69a"/>
<rect x="854.3" y="491.95" width="5.8" height="2.37" fill="#b2dfdb"/>
<rect x="861.3" y="493.48" width="5.8" height="0.85" fill="#b2dfdb"/>
<rect x="868.3" y="494.32" width="4.8" height="0.6" fill="#ffcdd2"/>
<rect x="874.3" y="494.32" width="5.8" height="1.86" fill="#ff5252"/>
<rect x="881.3" y="494.32" width="4.8" height="2.71" fill="#ff5252"/>
<rect x="887.3" y="494.32" width="5.8" height="3.55" fill="#ff5252"/>
<rect x="894.3" y="494.32" width="5.8" height="4.4" fill="#ff5252"/>
<rect x="901.3" y="494.32" width="4.8" height="2.71" fill="#ffcdd2"/>
<rect x="907.3" y="494.32" width="5.8" height="1.86" fill="#ffcdd2"/>
<rect x="914.3" y="494.32" width="4.8" height="0.6" fill="#ffcdd2"/>
<rect x="920.3" y="492.29" width="5.8" height="2.03" fill="#26a69a"/>
<rect x="927.3" y="491.45" width="5.8" height="2.88" fill="#26a69a"/>
<rect x="934.3" y="489.25" width="4.8" height="5.08" fill="#26a69a"/>
<rect x="940.3" y="487.22" width="5.8" height="7.11" fill="#26a69a"/>
<rect x="947.3" y="484.68" width="5.8" height="9.64" fill="#26a69a"/>
<rect x="954.3" y="479.09" width="4.8" height="15.23" fill="#26a69a"/>
<rect x="960.3" y="474.19" width="5.8" height="20.14" fill="#26a69a"/>
<rect x="967.3" y="473.17" width="4.8" height="21.15" fill="#26a69a"/>
<rect x="973.3" y="471.65" width="5.8" height="22.67" fill="#26a69a"/>
<rect x="980.3" y="468.94" width="5.8" height="25.38" fill="#26a69a"/>
<rect x="987.3" y="469.96" width="4.8" height="24.37" fill="#b2dfdb"/>
<rect x="993.3" y="470.8" width="5.8" height="23.52" fill="#b2dfdb"/>
<rect x="1000.3" y="473.65" width="4.8" height="20.64" fill="#b2dfdb"/>
<rect x="1006.3" y="476.18" width="5.8" height="18.1" fill="#b2dfdb"/>
<rect x="1013.3" y="477.03" width="5.8" height="17.26" fill="#b2dfdb"/>
<rect x="1020.3" y="478.21" width="4.8" height="16.07" fill="#b2dfdb"/>
<rect x="1026.3" y="482.78" width="5.8" height="11.51" fill="#b2dfdb"/>
<rect x="1033.3" y="487.18" width="5.8" height="7.11" fill="#b2dfdb"/>
<rect x="1040.3" y="488.03" width="4.8" height="6.26" fill="#b2dfdb"/>
<rect x="1046.3" y="486.34" width="5.8" height="7.95" fill="#26a69a"/>
<rect x="1053.3" y="485.32" width="4.8" height="8.97" fill="#26a69a"/>
<rect x="1059.3" y="487.18" width="5.8" height="7.11" fill="#b2dfdb"/>
<rect x="1066.3" y="488.87" width="5.8" height="5.41" fill="#b2dfdb"/>
<rect x="1073.3" y="490.06" width="4.8" height="4.23" fill="#b2dfdb"/>
<rect x="1079.3" y="487.18" width="5.8" height="7.11" fill="#26a69a"/>
<rect x="1086.3" y="485.49" width="4.8" height="8.8" fill="#26a69a"/>
<rect x="1092.3" y="484.64" width="5.8" height="9.64" fill="#26a69a"/>
<rect x="1099.3" y="486.34" width="5.8" height="7.95" fill="#b2dfdb"/>
<rect x="1106.3" y="486.34" width="4.8" height="7.95" fill="#b2dfdb"/>
<rect x="1112.3" y="483.63" width="5.8" height="10.66" fill="#26a69a"/>
<rect x="1119.3" y="482.78" width="4.8" height="11.51" fill="#26a69a"/>
<polyline points="9.23,461.5 16,459.3 23.61,456.76 30.38,454.22 37.15,451.68 43.92,449.15 50.69,446.95 57.45,445.42 64.22,444.07 70.99,442.72 76.07,441.87 83.17,441.02 89.6,440.35 96.37,440.69 103.14,441.87 109.91,444.07 116.68,446.95 123.44,449.48 130.21,452.19 136.98,454.56 142.9,456.76 149.67,458.96 156.44,461.33 163.21,463.02 169.47,463.87 175.9,463.87 182.66,463.19 189.43,463.02 196.2,461.84 202.97,460.14 209.57,457.61 216.17,455.58 222.77,454.56 229.37,454.22 235.96,453.71 242.56,453.38 249.16,452.19 255.76,450.5 262.53,448.64 268.96,446.61 275.56,445.76 282.16,446.61 288.76,448.81 295.36,452.19 301.95,454.22 308.55,454.56 315.15,452.87 321.75,449.48 328.35,445.76 334.95,440.35 341.72,434.26 348.32,427.15 354.92,422.07 361.51,418.69 368.11,416.15 374.71,414.46 381.31,413.27 387.91,413.27 394.51,414.97 401.28,417.84 407.88,421.23 414.48,424.1 421.07,425.12 427.67,426.3 434.27,428.5 440.87,430.87 447.47,435.27 454.07,440.35 460.67,446.61 467.27,453.38 473.87,459.3 480.47,463.53 487.06,466.91 493.66,469.11 500.26,469.96 506.86,470.3 513.46,470.8 520.06,471.48 526.83,471.99 533.6,472.83 540.19,471.99 546.79,471.14 553.22,470.3 559.82,469.45 566.42,469.11 573.02,469.45 579.62,470.3 586.22,470.8 592.82,470.3 599.59,469.11 606.18,468.1 612.78,467.25 619.38,466.57 625.98,466.91 632.58,467.42 639.18,469.11 645.78,470.8 652.38,473.17 658.98,476.22 665.58,479.09 672.34,480.79 678.94,482.65 685.54,483.83 692.14,485.19 698.74,486.88 705.34,488.4 711.94,489.42 718.54,490.09 725.14,490.6 731.73,490.94 738.33,491.11 744.93,491.11 751.53,490.94 758.13,489.75 764.73,487.72 771.33,486.03 777.93,484.68 784.53,484.17 791.13,484.68 797.72,485.86 804.49,488.06 811.09,490.09 817.69,491.45 824.29,491.79 830.89,491.11 837.49,490.6 844.09,489.42 850.69,488.06 857.28,487.55 863.88,487.22 870.48,487.55 877.08,488.4 883.68,489.25 890.28,490.26 896.88,491.11 903.48,491.95 910.08,492.63 916.68,492.8 923.27,492.63 929.87,491.79 936.47,490.26 943.07,488.57 949.67,486.37 956.61,482.65 963.21,477.91 969.81,473.17 976.4,466.91 983,460.65 989.6,454.22 996.2,448.81 1002.8,445.73 1009.4,440.48 1016,435.58 1022.6,431.18 1029.2,428.3 1035.8,426.27 1042.39,424.92 1048.99,423.22 1055.59,421.19 1062.19,419.84 1068.79,418.65 1075.39,417.81 1081.99,416.12 1088.59,413.92 1095.36,411.72 1101.95,410.03 1108.55,407.99 1115.15,405.46 1121.75,402.92" fill="none" stroke="#f28a38" stroke-width="1.2" stroke-linejoin="round" stroke-opacity="0.85"/>
<polyline points="9.23,451.18 16,449.15 23.61,447.12 30.38,443.22 37.15,441.02 43.92,439.33 50.69,437.3 57.45,440.01 64.22,438.49 70.99,437.81 76.07,437.64 83.17,438.49 89.6,438.65 96.37,442.04 103.14,445.25 109.91,451.68 116.68,457.94 123.44,460.99 130.21,461.84 136.98,463.02 142.9,464.37 149.67,466.4 156.44,469.11 163.21,470.13 169.47,469.45 175.9,466.07 182.66,462.68 189.43,460.14 196.2,455.91 202.97,451.68 209.57,448.81 216.17,449.15 222.77,450.84 229.37,452.19 235.96,453.38 242.56,451.68 249.16,448.81 255.76,444.92 262.53,442.38 268.96,439.5 275.56,439.84 282.16,446.61 288.76,455.07 295.36,463.53 301.95,463.19 308.55,455.91 315.15,446.61 321.75,440.69 328.35,435.27 334.95,426.3 341.72,417.84 348.32,406.51 354.92,400.41 361.51,404.31 368.11,403.8 374.71,406.51 381.31,408.2 387.91,411.92 394.51,418.69 401.28,427.99 407.88,435.61 414.48,435.27 421.07,428.84 427.67,429.69 434.27,434.76 440.87,438.65 447.47,448.81 454.07,456.76 460.67,467.76 467.27,473.68 473.87,479.6 480.47,482.65 487.06,481.29 493.66,478.25 500.26,477.06 506.86,472.5 513.46,473.17 520.06,474.53 526.83,473.17 533.6,475.37 540.19,469.96 546.79,468.1 553.22,465.22 559.82,465.73 566.42,469.11 573.02,470.63 579.62,472.83 586.22,471.48 592.82,469.45 599.59,463.53 606.18,463.53 612.78,463.53 619.38,465.22 625.98,466.91 632.58,468.94 639.18,473.68 645.78,477.06 652.38,480.79 658.98,486.88 665.58,490.09 672.34,489.75 678.94,488.06 685.54,489.42 692.14,489.75 698.74,492.8 705.34,494.32 711.94,494.32 718.54,492.63 725.14,491.79 731.73,492.8 738.33,491.79 744.93,490.94 751.53,490.09 758.13,484.68 764.73,480.11 771.33,479.09 777.93,480.11 784.53,482.99 791.13,486.71 797.72,489.75 804.49,496.18 811.09,498.21 817.69,496.18 824.29,492.8 830.89,489.75 837.49,488.06 844.09,485.19 850.69,482.65 857.28,484.68 863.88,486.88 870.48,488.91 877.08,490.6 883.68,492.29 890.28,493.98 896.88,494.83 903.48,495.34 910.08,495.68 916.68,493.98 923.27,491.79 929.87,488.91 936.47,485.52 943.07,482.65 949.67,477.4 956.61,468.1 963.21,458.45 969.81,451.18 976.4,443.22 983,435.61 989.6,430.53 996.2,425.96 1002.8,424.07 1009.4,421.87 1016,418.65 1022.6,416.12 1029.2,417.81 1035.8,420.69 1042.39,420.35 1048.99,416.96 1055.59,413.41 1062.19,413.92 1068.79,414.26 1075.39,414.76 1081.99,411.04 1088.59,406.3 1095.36,402.92 1101.95,402.41 1108.55,400.89 1115.15,395.3 1121.75,391.41" fill="none" stroke="#5577e0" stroke-width="1.2" stroke-linejoin="round" stroke-opacity="0.85"/>
<defs><linearGradient id="gg" gradientUnits="userSpaceOnUse" x1="0" y1="512" x2="0" y2="580.5"><stop offset="0" stop-color="#4caf50" stop-opacity="0.95"/><stop offset="1" stop-color="#4caf50" stop-opacity="0"/></linearGradient><clipPath id="c70"><rect x="9" y="532" width="1183" height="48.5"/></clipPath></defs>
<path d="M9.2 565.23 L11.5 566.07 L17.5 572.84 L24.5 571.66 L31.5 561.51 L37.5 568.27 L44.5 566.58 L50.5 561.51 L57.5 590.27 L64.5 576.73 L70.5 577.92 L77.5 576.57 L83.5 580.12 L90.5 575.04 L97.5 596.87 L103.5 596.87 L110.5 616.5 L117.5 625.3 L123.5 612.27 L130.5 603.81 L136.5 603.3 L143.5 607.02 L150.5 608.04 L156.5 619.04 L163.5 608.38 L169.5 600.25 L176.5 584.69 L183.5 586.72 L189.5 582.99 L196.5 574.53 L203.5 570.81 L209.5 573.69 L216.5 586.04 L222.5 593.99 L229.5 591.12 L236.5 591.12 L242.5 580.12 L249.5 572 L255.5 564.38 L262.5 570.3 L269.5 565.23 L275.5 581.3 L282.5 616.5 L289.5 635.45 L295.5 635.11 L302.5 605.5 L308.5 586.38 L315.5 578.43 L322.5 586.38 L328.5 583.84 L335.5 569.46 L341.5 573.18 L348.5 563.2 L355.5 577.07 L361.5 599.58 L368.5 592.3 L374.5 598.73 L381.5 595.69 L388.5 602.12 L394.5 608.38 L401.5 619.71 L408.5 619.37 L414.5 600.76 L421.5 588.92 L427.5 603.3 L434.5 616.33 L441.5 612.61 L447.5 629.19 L454.5 626.99 L460.5 638.49 L467.5 627.5 L474.5 633.76 L480.5 628.68 L487.5 618.19 L494.5 613.96 L500.5 618.02 L507.5 608.38 L513.5 619.37 L520.5 622.42 L527.5 616.84 L533.5 622.76 L540.5 606.68 L546.5 612.61 L553.5 609.22 L560.5 613.96 L566.5 623.6 L573.5 620.73 L580.5 621.07 L586.5 613.96 L593.5 608.04 L599.5 599.07 L606.5 612.1 L613.5 610.91 L619.5 615.99 L626.5 616.84 L632.5 617.34 L639.5 629.53 L646.5 626.99 L652.5 628.68 L659.5 643.06 L666.5 632.91 L672.5 623.1 L679.5 618.53 L685.5 627.83 L692.5 624.11 L699.5 634.6 L705.5 631.22 L712.5 627.5 L718.5 618.19 L725.5 622.42 L732.5 628.34 L738.5 620.73 L745.5 623.6 L751.5 619.37 L758.5 604.99 L765.5 596.02 L771.5 612.27 L778.5 620.73 L785.5 630.37 L791.5 637.14 L798.5 632.91 L804.5 646.94 L811.5 642.03 L818.5 619.19 L824.5 615.8 L831.5 614.11 L837.5 618.17 L844.5 608.53 L851.5 609.04 L857.5 629.34 L864.5 627.65 L871.5 624.6 L877.5 632.22 L884.5 632.22 L890.5 633.06 L897.5 639.49 L904.5 625.45 L910.5 629.17 L917.5 616.65 L923.5 619.02 L930.5 609.04 L937.5 606.84 L943.5 600.41 L950.5 590.76 L957.5 571.3 L963.5 566.73 L970.5 573.33 L976.5 566.23 L983.5 559.12 L990.5 565.04 L996.5 562 L1003.5 566.64 L1009.5 564.61 L1016.5 559.2 L1023.5 557.34 L1029.5 574.26 L1036.5 582.38 L1043.5 571.89 L1049.5 563.43 L1056.5 560.72 L1062.5 574.76 L1069.5 572.56 L1076.5 570.53 L1082.5 559.53 L1089.5 556.49 L1095.5 555.3 L1102.5 560.04 L1109.5 556.15 L1115.5 548.03 L1122.5 546.84 L1122.5 581 L9.2 581 Z" fill="url(#gg)" clip-path="url(#c70)"/>
<polyline points="9.23,588.58 18.2,584.69 24.8,582.49 30.72,580.46 37.15,578.76 43.58,577.07 50.69,575.72 57.12,574.53 63.71,573.69 70.31,572.84 76.91,572.5 83.17,572.34 89.6,572.5 96.71,574.53 103.31,577.07 109.91,580.46 116.68,583.84 123.1,587.23 129.7,590.61 136.3,593.49 142.9,596.02 149.67,598.22 156.44,600.42 163.04,602.45 169.47,603.81 175.9,604.65 182.33,604.99 189.09,604.15 196.2,602.45 202.97,599.92 209.57,595.35 216.17,593.65 222.77,592.3 229.37,591.12 235.96,590.1 242.56,587.23 249.16,583.84 255.76,581.3 262.53,579.95 268.96,578.76 275.56,579.1 282.16,582.15 288.76,586.38 295.36,590.27 301.95,592.3 308.55,591.46 315.15,590.61 321.75,590.27 328.35,589.42 334.95,589.26 341.72,589.26 348.32,589.26 354.92,589.76 361.51,591.46 368.11,592.3 374.71,590.61 381.31,587.56 387.91,586.38 394.51,587.23 401.28,589.26 407.88,591.46 414.48,593.15 421.07,594.33 427.67,596.53 434.27,599.41 440.87,602.79 447.47,605.84 454.07,608.88 460.67,611.76 467.27,614.64 473.87,617.34 480.47,619.04 487.06,619.04 493.66,618.53 500.26,618.53 506.86,619.04 513.46,620.73 520.06,622.42 526.83,623.27 533.6,623.1 540.19,621.91 546.79,620.56 553.22,618.53 559.82,617.34 566.42,616.5 573.02,616.33 579.62,616.33 586.22,615.99 592.82,615.14 599.59,614.64 606.18,614.3 612.78,613.96 619.38,613.45 625.98,613.45 632.58,613.96 639.18,615.14 645.78,616.5 652.38,618.02 658.98,619.04 665.58,619.88 672.34,620.22 678.94,621.07 685.54,622.42 692.14,623.94 698.74,625.3 705.34,626.48 711.94,627.33 718.54,627.83 725.14,627.83 731.73,627.5 738.33,627.33 744.93,626.48 751.53,624.96 758.13,623.1 764.73,621.4 771.33,620.73 777.93,620.73 784.53,621.07 791.13,621.07 797.72,621.57 804.49,622.4 811.09,623.76 817.69,624.09 824.29,623.25 830.89,622.57 837.49,622.06 844.09,621.56 850.69,622.06 857.28,623.25 863.88,624.26 870.48,624.94 877.08,625.11 883.68,624.94 890.28,624.6 896.88,624.09 903.48,623.42 910.08,623.76 916.68,624.09 923.27,624.09 929.87,623.76 936.47,623.42 943.07,622.91 949.67,620.37 956.61,616.99 963.21,612.76 969.81,608.53 976.4,603.45 983,597.53 989.6,592.12 996.2,586.53 1002.8,584.07 1009.4,580.35 1016,575.61 1022.6,571.89 1029.2,569.35 1035.8,567.99 1042.39,566.81 1048.99,566.3 1055.59,566.3 1062.19,566.64 1068.79,567.15 1075.39,567.49 1081.99,567.15 1088.59,566.81 1095.36,566.3 1101.95,565.8 1108.55,565.46 1115.15,564.95 1121.75,563.76" fill="none" stroke="#f3e08a" stroke-width="1.3" stroke-linejoin="round" />
<polyline points="9.2,565.23 11.5,566.07 17.5,572.84 24.5,571.66 31.5,561.51 37.5,568.27 44.5,566.58 50.5,561.51 57.5,590.27 64.5,576.73 70.5,577.92 77.5,576.57 83.5,580.12 90.5,575.04 97.5,596.87 103.5,596.87 110.5,616.5 117.5,625.3 123.5,612.27 130.5,603.81 136.5,603.3 143.5,607.02 150.5,608.04 156.5,619.04 163.5,608.38 169.5,600.25 176.5,584.69 183.5,586.72 189.5,582.99 196.5,574.53 203.5,570.81 209.5,573.69 216.5,586.04 222.5,593.99 229.5,591.12 236.5,591.12 242.5,580.12 249.5,572 255.5,564.38 262.5,570.3 269.5,565.23 275.5,581.3 282.5,616.5 289.5,635.45 295.5,635.11 302.5,605.5 308.5,586.38 315.5,578.43 322.5,586.38 328.5,583.84 335.5,569.46 341.5,573.18 348.5,563.2 355.5,577.07 361.5,599.58 368.5,592.3 374.5,598.73 381.5,595.69 388.5,602.12 394.5,608.38 401.5,619.71 408.5,619.37 414.5,600.76 421.5,588.92 427.5,603.3 434.5,616.33 441.5,612.61 447.5,629.19 454.5,626.99 460.5,638.49 467.5,627.5 474.5,633.76 480.5,628.68 487.5,618.19 494.5,613.96 500.5,618.02 507.5,608.38 513.5,619.37 520.5,622.42 527.5,616.84 533.5,622.76 540.5,606.68 546.5,612.61 553.5,609.22 560.5,613.96 566.5,623.6 573.5,620.73 580.5,621.07 586.5,613.96 593.5,608.04 599.5,599.07 606.5,612.1 613.5,610.91 619.5,615.99 626.5,616.84 632.5,617.34 639.5,629.53 646.5,626.99 652.5,628.68 659.5,643.06 666.5,632.91 672.5,623.1 679.5,618.53 685.5,627.83 692.5,624.11 699.5,634.6 705.5,631.22 712.5,627.5 718.5,618.19 725.5,622.42 732.5,628.34 738.5,620.73 745.5,623.6 751.5,619.37 758.5,604.99 765.5,596.02 771.5,612.27 778.5,620.73 785.5,630.37 791.5,637.14 798.5,632.91 804.5,646.94 811.5,642.03 818.5,619.19 824.5,615.8 831.5,614.11 837.5,618.17 844.5,608.53 851.5,609.04 857.5,629.34 864.5,627.65 871.5,624.6 877.5,632.22 884.5,632.22 890.5,633.06 897.5,639.49 904.5,625.45 910.5,629.17 917.5,616.65 923.5,619.02 930.5,609.04 937.5,606.84 943.5,600.41 950.5,590.76 957.5,571.3 963.5,566.73 970.5,573.33 976.5,566.23 983.5,559.12 990.5,565.04 996.5,562 1003.5,566.64 1009.5,564.61 1016.5,559.2 1023.5,557.34 1029.5,574.26 1036.5,582.38 1043.5,571.89 1049.5,563.43 1056.5,560.72 1062.5,574.76 1069.5,572.56 1076.5,570.53 1082.5,559.53 1089.5,556.49 1095.5,555.3 1102.5,560.04 1109.5,556.15 1115.5,548.03 1122.5,546.84" fill="none" stroke="#8a7ac2" stroke-width="1.05" stroke-linejoin="round" />
<g stroke="#f0f0f4" stroke-width="1" fill="none" shape-rendering="crispEdges">
<line x1="8.5" y1="375.5" x2="1254.5" y2="375.5"/><line x1="8.5" y1="531.5" x2="1254.5" y2="531.5"/>
<rect x="8.5" y="24.5" width="1246.0" height="687.0"/>
</g>
<text x="1200" y="57.1" font-size="10.6" fill="#131722" stroke="#131722" stroke-width="0.3" textLength="46" lengthAdjust="spacingAndGlyphs" >4,000.000</text>
<text x="1200" y="106.2" font-size="10.6" fill="#131722" stroke="#131722" stroke-width="0.3" textLength="46" lengthAdjust="spacingAndGlyphs" >3,800.000</text>
<text x="1200" y="204.4" font-size="10.6" fill="#131722" stroke="#131722" stroke-width="0.3" textLength="46" lengthAdjust="spacingAndGlyphs" >3,400.000</text>
<text x="1200" y="252.8" font-size="10.6" fill="#131722" stroke="#131722" stroke-width="0.3" textLength="46" lengthAdjust="spacingAndGlyphs" >3,200.000</text>
<text x="1200" y="301.7" font-size="10.6" fill="#131722" stroke="#131722" stroke-width="0.3" textLength="46" lengthAdjust="spacingAndGlyphs" >3,000.000</text>
<text x="1200" y="385.8" font-size="10.6" fill="#131722" stroke="#131722" stroke-width="0.3" textLength="36.8" lengthAdjust="spacingAndGlyphs" >120.000</text>
<text x="1200" y="423.4" font-size="10.6" fill="#131722" stroke="#131722" stroke-width="0.3" textLength="31.6" lengthAdjust="spacingAndGlyphs" >80.000</text>
<text x="1200" y="460.2" font-size="10.6" fill="#131722" stroke="#131722" stroke-width="0.3" textLength="31.6" lengthAdjust="spacingAndGlyphs" >40.000</text>
<text x="1200" y="497.6" font-size="10.6" fill="#131722" stroke="#131722" stroke-width="0.3" textLength="26.3" lengthAdjust="spacingAndGlyphs" >0.000</text>
<text x="1200" y="606.7" font-size="10.6" fill="#131722" stroke="#131722" stroke-width="0.3" textLength="26.3" lengthAdjust="spacingAndGlyphs" >60.00</text>
<text x="1200" y="653.6" font-size="10.6" fill="#131722" stroke="#131722" stroke-width="0.3" textLength="26.3" lengthAdjust="spacingAndGlyphs" >40.00</text>
<rect x="1192" y="55.9" width="58.8" height="27.6" rx="1.5" fill="#26a69a"/>
<text x="1200" y="66.4" font-size="10.6" fill="#fff" stroke="#fff" stroke-width="0.3" textLength="46" lengthAdjust="spacingAndGlyphs" >3,964.398</text>
<text x="1200" y="79.6" font-size="10.6" fill="#d4edea" stroke="#d4edea" stroke-width="0.3" textLength="40.4" lengthAdjust="spacingAndGlyphs" >15:22:19</text>
<rect x="1156.3" y="55.9" width="34.7" height="15" rx="1.5" fill="#26a69a"/>
<text x="1159.9" y="67.2" font-size="11" fill="#fff" stroke="#fff" stroke-width="0.3" textLength="27.8" lengthAdjust="spacingAndGlyphs" >GOLD</text>
<rect x="1192" y="84.1" width="58.8" height="15.4" rx="1.5" fill="#2962ff"/>
<text x="1200" y="95.3" font-size="10.6" fill="#ffffff" stroke="#ffffff" stroke-width="0.3" textLength="46" lengthAdjust="spacingAndGlyphs" >3,897.712</text>
<rect x="1192" y="119.3" width="58.8" height="15" rx="1.5" fill="#2962ff"/>
<text x="1200" y="130.3" font-size="10.6" fill="#ffffff" stroke="#ffffff" stroke-width="0.3" textLength="46" lengthAdjust="spacingAndGlyphs" >3,704.312</text>
<rect x="1192" y="144.7" width="58.8" height="15" rx="1.5" fill="#2962ff"/>
<text x="1200" y="155.7" font-size="10.6" fill="#ffffff" stroke="#ffffff" stroke-width="0.3" textLength="46" lengthAdjust="spacingAndGlyphs" >3,601.421</text>
<rect x="1192" y="250.4" width="58.8" height="15" rx="1.5" fill="#2962ff"/>
<text x="1200" y="261.4" font-size="10.6" fill="#ffffff" stroke="#ffffff" stroke-width="0.3" textLength="46" lengthAdjust="spacingAndGlyphs" >3,169.383</text>
<rect x="1192" y="278.3" width="58.8" height="15" rx="1.5" fill="#2962ff"/>
<text x="1200" y="289.3" font-size="10.6" fill="#ffffff" stroke="#ffffff" stroke-width="0.3" textLength="46" lengthAdjust="spacingAndGlyphs" >3,057.510</text>
<rect x="1192" y="343" width="58.8" height="15" rx="1.5" fill="#2962ff"/>
<text x="1200" y="354" font-size="10.6" fill="#ffffff" stroke="#ffffff" stroke-width="0.3" textLength="46" lengthAdjust="spacingAndGlyphs" >2,790.769</text>
<rect x="1192" y="380" width="49.3" height="15" rx="1.5" fill="#2962ff"/>
<text x="1200" y="391" font-size="10.6" fill="#ffffff" stroke="#ffffff" stroke-width="0.3" textLength="36.8" lengthAdjust="spacingAndGlyphs" >109.599</text>
<rect x="1192" y="395.9" width="43.7" height="15" rx="1.5" fill="#ff6d00"/>
<text x="1200" y="406.9" font-size="10.6" fill="#ffffff" stroke="#ffffff" stroke-width="0.3" textLength="31" lengthAdjust="spacingAndGlyphs" >97.329</text>
<rect x="1192" y="475.3" width="43.7" height="15" rx="1.5" fill="#26a69a"/>
<text x="1200" y="486.3" font-size="10.6" fill="#ffffff" stroke="#ffffff" stroke-width="0.3" textLength="31" lengthAdjust="spacingAndGlyphs" >12.270</text>
<rect x="1192" y="540.3" width="38.2" height="15" rx="1.5" fill="#7e57c2"/>
<text x="1200" y="551.3" font-size="10.6" fill="#ffffff" stroke="#ffffff" stroke-width="0.3" textLength="26" lengthAdjust="spacingAndGlyphs" >84.06</text>
<rect x="1192" y="556.4" width="38.2" height="15" rx="1.5" fill="#fdd835"/>
<text x="1200" y="567.4" font-size="10.6" fill="#131722" stroke="#131722" stroke-width="0.3" textLength="26" lengthAdjust="spacingAndGlyphs" >77.27</text>
<text x="16.5" y="42.8" font-size="11.5" fill="#131722" stroke="#131722" stroke-width="0.3" textLength="81" lengthAdjust="spacingAndGlyphs" >GOLD · 1D · TVC</text>
<text x="105.9" y="42.8" font-size="11.5" fill="#131722" stroke="#131722" stroke-width="0.3" textLength="6.3" lengthAdjust="spacingAndGlyphs" >O</text>
<text x="112.5" y="42.8" font-size="11.5" fill="#26a69a" stroke="#26a69a" stroke-width="0.3" textLength="47.6" lengthAdjust="spacingAndGlyphs" >3,959.220</text>
<text x="168" y="42.8" font-size="11.5" fill="#131722" stroke="#131722" stroke-width="0.3" textLength="6.4" lengthAdjust="spacingAndGlyphs" >H</text>
<text x="174.6" y="42.8" font-size="11.5" fill="#26a69a" stroke="#26a69a" stroke-width="0.3" textLength="47.1" lengthAdjust="spacingAndGlyphs" >3,977.450</text>
<text x="229.3" y="42.8" font-size="11.5" fill="#131722" stroke="#131722" stroke-width="0.3" textLength="5" lengthAdjust="spacingAndGlyphs" >L</text>
<text x="234.5" y="42.8" font-size="11.5" fill="#26a69a" stroke="#26a69a" stroke-width="0.3" textLength="46.2" lengthAdjust="spacingAndGlyphs" >3,956.060</text>
<text x="288.2" y="42.8" font-size="11.5" fill="#131722" stroke="#131722" stroke-width="0.3" textLength="6" lengthAdjust="spacingAndGlyphs" >C</text>
<text x="294.6" y="42.8" font-size="11.5" fill="#26a69a" stroke="#26a69a" stroke-width="0.3" textLength="46.2" lengthAdjust="spacingAndGlyphs" >3,964.398</text>
<text x="348.6" y="42.8" font-size="11.5" fill="#26a69a" stroke="#26a69a" stroke-width="0.3" textLength="74.2" lengthAdjust="spacingAndGlyphs" >+5.128 (+0.13%)</text>
<text x="431.3" y="42.8" font-size="11.5" fill="#131722" stroke="#131722" stroke-width="0.3" textLength="14.7" lengthAdjust="spacingAndGlyphs" >Vol</text>
<text x="446" y="42.8" font-size="11.5" fill="#26a69a" stroke="#26a69a" stroke-width="0.3" textLength="5" lengthAdjust="spacingAndGlyphs" >0</text>
<text x="16.5" y="393.3" font-size="11.5" fill="#131722" stroke="#131722" stroke-width="0.3" textLength="103.8" lengthAdjust="spacingAndGlyphs" >MACD (12, 26, close)</text>
<text x="128.7" y="393.3" font-size="11.5" fill="#26a69a" stroke="#26a69a" stroke-width="0.3" textLength="30.9" lengthAdjust="spacingAndGlyphs" >12.270</text>
<text x="167.7" y="393.3" font-size="11.5" fill="#3d6ae8" stroke="#3d6ae8" stroke-width="0.3" textLength="35.7" lengthAdjust="spacingAndGlyphs" >109.599</text>
<text x="211.6" y="393.3" font-size="11.5" fill="#f08030" stroke="#f08030" stroke-width="0.3" textLength="31.1" lengthAdjust="spacingAndGlyphs" >97.329</text>
<text x="16.5" y="549.6" font-size="11.5" fill="#131722" stroke="#131722" stroke-width="0.3" textLength="71.4" lengthAdjust="spacingAndGlyphs" >RSI (14, close)</text>
<text x="95.5" y="549.6" font-size="11.5" fill="#8668c6" stroke="#8668c6" stroke-width="0.3" textLength="25.6" lengthAdjust="spacingAndGlyphs" >84.06</text>
<text x="129.2" y="549.6" font-size="11.5" fill="#f0dc74" stroke="#f0dc74" stroke-width="0.3" textLength="24.8" lengthAdjust="spacingAndGlyphs" >77.27</text>
<text x="123.3" y="703" font-size="11" fill="#1e222d" font-weight="bold" text-anchor="middle" >Mar</text>
<text x="262.3" y="703" font-size="11" fill="#1e222d" font-weight="bold" text-anchor="middle" >Apr</text>
<text x="401.3" y="703" font-size="11" fill="#1e222d" font-weight="bold" text-anchor="middle" >May</text>
<text x="540.3" y="703" font-size="11" fill="#1e222d" font-weight="bold" text-anchor="middle" >Jun</text>
<text x="672.3" y="703" font-size="11" fill="#1e222d" font-weight="bold" text-anchor="middle" >Jul</text>
<text x="818.3" y="703" font-size="11" fill="#1e222d" font-weight="bold" text-anchor="middle" >Aug</text>
<text x="957.3" y="703" font-size="11" fill="#1e222d" font-weight="bold" text-anchor="middle" >Sep</text>
<text x="1095.3" y="703" font-size="11" fill="#1e222d" font-weight="bold" text-anchor="middle" >Oct</text>
<circle cx="1122.4" cy="363.1" r="9.4" fill="#fff" stroke="#8e5bc7" stroke-width="1.2"/>
<g><circle cx="1142.1" cy="363.1" r="9.4" fill="#fff" stroke="#ef5350" stroke-width="1.2"/><clipPath id="fc1142"><circle cx="1142.1" cy="363.1" r="7.2"/></clipPath><g clip-path="url(#fc1142)"><rect x="1134.1" y="355.1" width="16" height="16" fill="#fff"/><rect x="1134.1" y="355.90000000000003" width="16" height="2.6" fill="#ef5350"/><rect x="1134.1" y="361.1" width="16" height="3.4" fill="#ef5350"/><rect x="1134.1" y="367.0" width="16" height="3.4" fill="#ef5350"/><rect x="1134.1" y="355.1" width="9.6" height="9.6" fill="#3d6fd1"/><circle cx="1136.5" cy="358.1" r="0.55" fill="#e8efff"/><circle cx="1136.5" cy="360.2" r="0.55" fill="#e8efff"/><circle cx="1136.5" cy="362.3" r="0.55" fill="#e8efff"/><circle cx="1138.7" cy="358.1" r="0.55" fill="#e8efff"/><circle cx="1138.7" cy="360.2" r="0.55" fill="#e8efff"/><circle cx="1138.7" cy="362.3" r="0.55" fill="#e8efff"/><circle cx="1140.9" cy="358.1" r="0.55" fill="#e8efff"/><circle cx="1140.9" cy="360.2" r="0.55" fill="#e8efff"/><circle cx="1140.9" cy="362.3" r="0.55" fill="#e8efff"/></g></g>
<g><circle cx="1128.3" cy="363.1" r="9.4" fill="#fff" stroke="#ef5350" stroke-width="1.2"/><clipPath id="fc1128"><circle cx="1128.3" cy="363.1" r="7.2"/></clipPath><g clip-path="url(#fc1128)"><rect x="1120.3" y="355.1" width="16" height="16" fill="#fff"/><rect x="1120.3" y="355.90000000000003" width="16" height="2.6" fill="#ef5350"/><rect x="1120.3" y="361.1" width="16" height="3.4" fill="#ef5350"/><rect x="1120.3" y="367.0" width="16" height="3.4" fill="#ef5350"/><rect x="1120.3" y="355.1" width="9.6" height="9.6" fill="#3d6fd1"/><circle cx="1122.7" cy="358.1" r="0.55" fill="#e8efff"/><circle cx="1122.7" cy="360.2" r="0.55" fill="#e8efff"/><circle cx="1122.7" cy="362.3" r="0.55" fill="#e8efff"/><circle cx="1124.9" cy="358.1" r="0.55" fill="#e8efff"/><circle cx="1124.9" cy="360.2" r="0.55" fill="#e8efff"/><circle cx="1124.9" cy="362.3" r="0.55" fill="#e8efff"/><circle cx="1127.1" cy="358.1" r="0.55" fill="#e8efff"/><circle cx="1127.1" cy="360.2" r="0.55" fill="#e8efff"/><circle cx="1127.1" cy="362.3" r="0.55" fill="#e8efff"/></g></g>
<g fill="#131722"><path d="M11.2 733H21.9V746.2H16.2V738.7H11.2Z"/><circle cx="26.5" cy="735.4" r="2.4"/><path d="M29.9 733H38.6L33 746H26.9Z"/></g>
<text x="45.6" y="746.2" font-size="18.6" fill="#131722" stroke="#131722" stroke-width="0.3" font-weight="bold" textLength="111.6" lengthAdjust="spacingAndGlyphs" >TradingView</text></svg>
</body></html>
